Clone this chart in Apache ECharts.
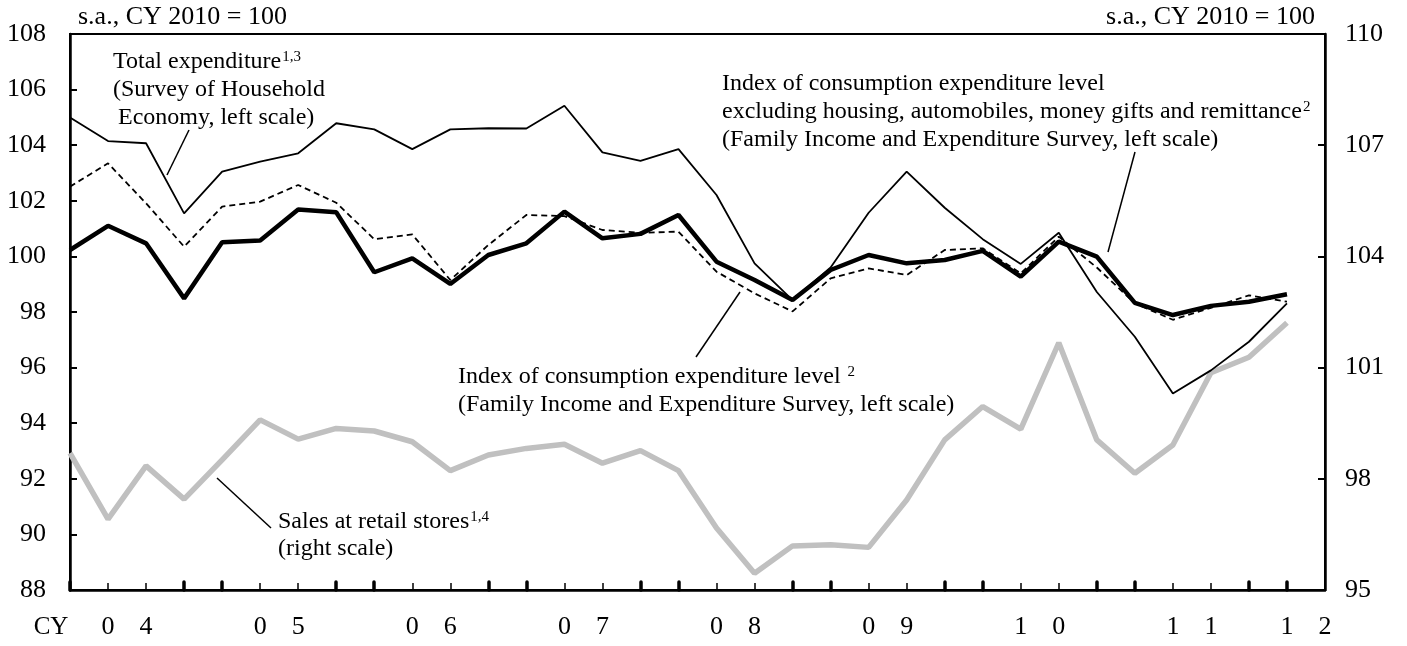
<!DOCTYPE html>
<html>
<head>
<meta charset="utf-8">
<script src="https://cdn.jsdelivr.net/npm/echarts@6/dist/echarts.min.js"></script>
<style>
  html, body { margin: 0; padding: 0; background: #fff; }
  #chart { width: 1407px; height: 646px; }
</style>
</head>
<body>
<div id="chart"></div>
<script>
// quarters 2004Q1 .. 2012Q1, plus one empty slot at the right edge
const quarters = [];
for (let y = 2004; y <= 2012; y++) {
  for (let q = 1; q <= 4; q++) {
    if (y === 2012 && q > 2) break;
    quarters.push(y + 'Q' + q);
  }
}
const tickLabels = ['', '0', '4', '', '', '0', '5', '', '', '0', '6', '', '', '0', '7', '',
  '', '0', '8', '', '', '0', '9', '', '', '1', '0', '', '', '1', '1', '', '1', '2'];

// Total expenditure (Survey of Household Economy), left scale
const totalExpenditure = [105.0, 104.15, 104.07, 101.55, 103.05, 103.41, 103.71, 104.79, 104.57, 103.86,
  104.57, 104.61, 104.6, 105.42, 103.74, 103.44, 103.86, 102.21, 99.75, 98.43,
  99.6, 101.57, 103.05, 101.75, 100.62, 99.73, 100.85, 98.72, 97.11, 95.07,
  95.9, 96.93, 98.31];
// Index of consumption expenditure level excl. housing etc., left scale
const indexExcl = [102.51, 103.35, 101.91, 100.35, 101.79, 101.97, 102.57, 101.93, 100.62, 100.79,
  99.15, 100.41, 101.49, 101.45, 100.95, 100.85, 100.89, 99.45, 98.67, 98.02,
  99.21, 99.57, 99.33, 100.23, 100.29, 99.39, 100.71, 99.6, 98.31, 97.72,
  98.15, 98.6, 98.37];
// Index of consumption expenditure level, left scale
const indexLevel = [100.23, 101.1, 100.47, 98.49, 100.51, 100.57, 101.69, 101.59, 99.43, 99.93,
  99.01, 100.05, 100.47, 101.61, 100.65, 100.81, 101.49, 99.81, 99.15, 98.43,
  99.51, 100.05, 99.75, 99.87, 100.2, 99.27, 100.53, 99.99, 98.33, 97.89,
  98.22, 98.37, 98.64];
// Sales at retail stores, right scale
const retailSales = [98.69, 96.91, 98.35, 97.45, 98.51, 99.59, 99.07, 99.36, 99.29, 99.0,
  98.22, 98.64, 98.82, 98.93, 98.42, 98.76, 98.22, 96.67, 95.45, 96.19,
  96.22, 96.15, 97.43, 99.05, 99.95, 99.34, 101.67, 99.05, 98.15, 98.91,
  100.86, 101.28, 102.21];

const FONT = "'Liberation Serif', 'Times New Roman', serif";
const supStyle = { fontSize: 15, fontFamily: FONT, verticalAlign: 'top', padding: [0, 0, 10, 1] };

function note(x, y, text) {
  return {
    type: 'text', x: x, y: y, z: 100,
    style: { text: text, font: '24px ' + FONT, fill: '#000', verticalAlign: 'middle', rich: { sup: supStyle } }
  };
}
function leader(x1, y1, x2, y2) {
  return { type: 'line', z: 100, shape: { x1: x1, y1: y1, x2: x2, y2: y2 }, style: { stroke: '#000', lineWidth: 1.5 } };
}

const chart = echarts.init(document.getElementById('chart'));
chart.setOption({
  animation: false,
  backgroundColor: '#fff',
  textStyle: { fontFamily: FONT, color: '#000' },
  grid: { left: 70, right: 82, top: 34, bottom: 56, show: true, borderColor: '#000', borderWidth: 2 },
  xAxis: [{
    type: 'category', data: quarters, boundaryGap: false, position: 'bottom',
    axisLine: { lineStyle: { color: '#000', width: 2.5 } },
    axisTick: {
      inside: true, length: 8, interval: (i) => i < 33 && (i % 4 === 0 || i % 4 === 3),
      lineStyle: { color: '#000', width: 3.5, cap: 'round' }
    },
    axisLabel: { interval: 0, margin: 24, fontSize: 26, color: '#000', fontFamily: FONT, formatter: (v, i) => tickLabels[i] },
    splitLine: { show: false }
  }, {
    type: 'category', data: quarters, boundaryGap: false, position: 'bottom',
    axisLine: { show: false },
    axisTick: {
      inside: true, length: 7, interval: (i) => i % 4 === 1 || i % 4 === 2,
      lineStyle: { color: '#000', width: 1.5 }
    },
    axisLabel: { show: false },
    splitLine: { show: false }
  }],
  yAxis: [{
    type: 'value', min: 88, max: 108, interval: 2, position: 'left',
    name: 's.a., CY 2010 = 100', nameLocation: 'end', nameGap: 17,
    nameTextStyle: { fontSize: 26, fontFamily: FONT, color: '#000', align: 'left', verticalAlign: 'middle', padding: [0, 0, 0, 8] },
    axisLine: { show: true, lineStyle: { color: '#000', width: 2.5 } },
    axisTick: { show: true, inside: true, length: 7, lineStyle: { color: '#000', width: 2 } },
    axisLabel: { margin: 24, fontSize: 26, color: '#000', fontFamily: FONT },
    splitLine: { show: false }
  }, {
    type: 'value', min: 95, max: 110, interval: 3, position: 'right',
    name: 's.a., CY 2010 = 100', nameLocation: 'end', nameGap: 17,
    nameTextStyle: { fontSize: 26, fontFamily: FONT, color: '#000', align: 'right', verticalAlign: 'middle', padding: [0, 10, 0, 0] },
    axisLine: { show: true, lineStyle: { color: '#000', width: 2.5 } },
    axisTick: { show: true, inside: true, length: 7, lineStyle: { color: '#000', width: 2 } },
    axisLabel: { margin: 20, fontSize: 26, color: '#000', fontFamily: FONT },
    splitLine: { show: false }
  }],
  series: [{
    name: 'Sales at retail stores', type: 'line', yAxisIndex: 1, data: retailSales,
    symbol: 'none', z: 1, lineStyle: { color: '#c0c0c0', width: 5.5 }
  }, {
    name: 'Total expenditure', type: 'line', data: totalExpenditure,
    symbol: 'none', z: 3, lineStyle: { color: '#000', width: 1.8 }
  }, {
    name: 'Index excl. housing', type: 'line', data: indexExcl,
    symbol: 'none', z: 4, lineStyle: { color: '#000', width: 1.8, type: [6, 4] }
  }, {
    name: 'Index of consumption expenditure level', type: 'line', data: indexLevel,
    symbol: 'none', z: 5, lineStyle: { color: '#000', width: 4.5 }
  }],
  graphic: [
    { type: 'text', x: 51, y: 627, style: { text: 'CY', font: '25px ' + FONT, fill: '#000', align: 'center', verticalAlign: 'middle' } },
    note(113, 62, 'Total expenditure{sup|1,3}'),
    note(113, 90, '(Survey of Household'),
    note(118, 118, 'Economy, left scale)'),
    leader(189, 130, 167, 175),
    note(722, 84, 'Index of consumption expenditure level'),
    note(722, 112, 'excluding housing, automobiles, money gifts and remittance{sup|2}'),
    note(722, 140, '(Family Income and Expenditure Survey, left scale)'),
    leader(1135, 152, 1108, 252),
    note(458, 377, 'Index of consumption expenditure level {sup|2}'),
    note(458, 405, '(Family Income and Expenditure Survey, left scale)'),
    leader(740, 292, 696, 357),
    note(278, 522, 'Sales at retail stores{sup|1,4}'),
    note(278, 549, '(right scale)'),
    leader(217, 478, 271, 528)
  ]
});
</script>
</body>
</html>
